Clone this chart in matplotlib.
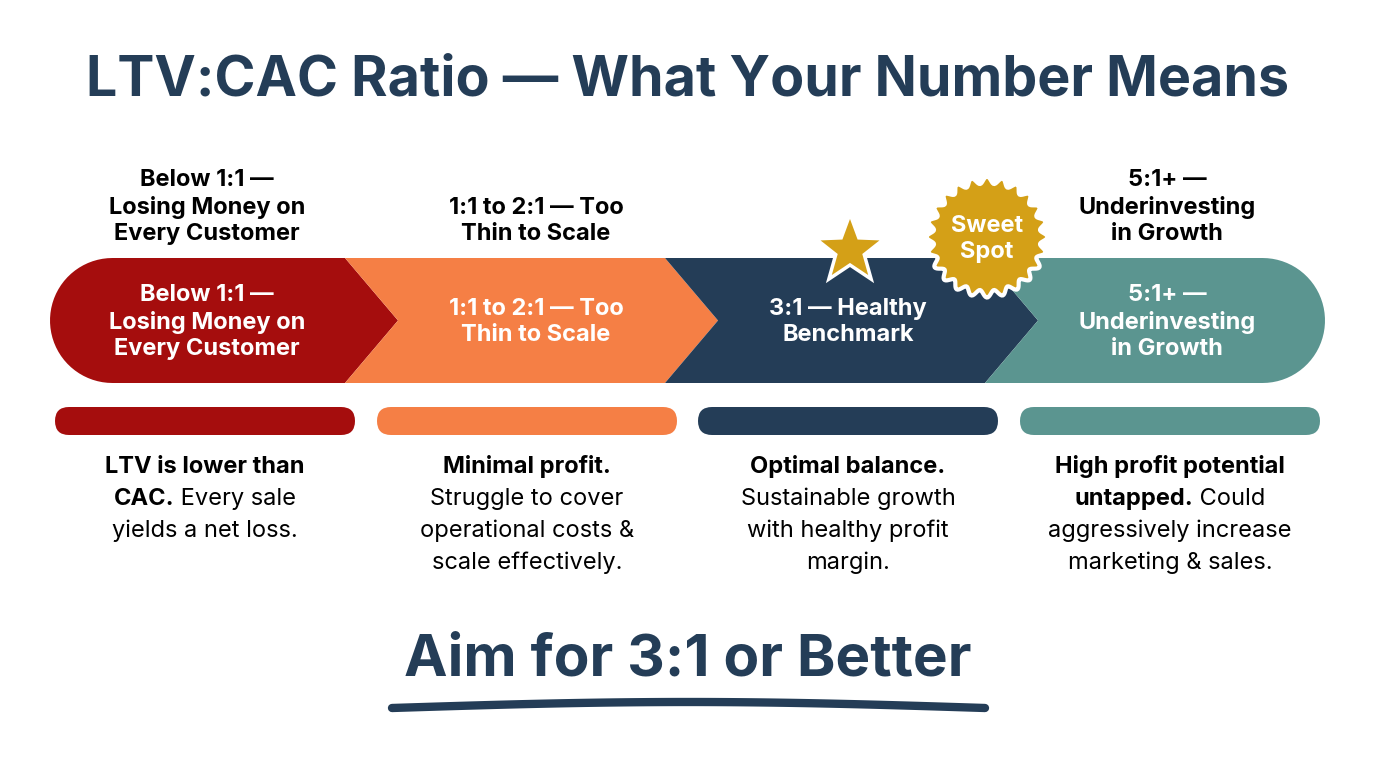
import numpy as np
import matplotlib
matplotlib.use("Agg")
import matplotlib.pyplot as plt
from matplotlib.patches import Polygon, FancyBboxPatch

plt.rcParams['font.family'] = ['Inter', 'DejaVu Sans']

title = "LTV:CAC Ratio — What Your Number Means"
band_labels = ["Below 1:1 —\nLosing Money on\nEvery Customer",
               "1:1 to 2:1 — Too\nThin to Scale",
               "3:1 — Healthy\nBenchmark",
               "5:1+ —\nUnderinvesting\nin Growth"]
top_labels = ["Below 1:1 —\nLosing Money on\nEvery Customer",
              "1:1 to 2:1 — Too\nThin to Scale",
              "",
              "5:1+ —\nUnderinvesting\nin Growth"]
colors = ["#a50d0d", "#f57f45", "#243d57", "#5b9590"]
# each description: list of lines; each line: (bold part, normal part)
descriptions = [
    [("LTV is lower than", ""), ("CAC.", " Every sale"), ("", "yields a net loss.")],
    [("Minimal profit.", ""), ("", "Struggle to cover"), ("", "operational costs &"), ("", "scale effectively.")],
    [("Optimal balance.", ""), ("", "Sustainable growth"), ("", "with healthy profit"), ("", "margin.")],
    [("High profit potential", ""), ("untapped.", " Could"), ("", "aggressively increase"), ("", "marketing & sales.")],
]
footer = "Aim for 3:1 or Better"
badge = "Sweet\nSpot"

NAVY = "#243d57"
GOLD = "#d4a017"

fig = plt.figure(figsize=(13.76, 7.68), dpi=100)
ax = fig.add_axes([0, 0, 1, 1])
ax.set_xlim(0, 1376); ax.set_ylim(768, 0); ax.axis('off')

ax.text(688, 80, title, ha='center', va='center', fontsize=40, fontweight='bold', color=NAVY)

# chevron band
y0, y1 = 258, 383
ym = (y0 + y1) / 2; r = (y1 - y0) / 2
starts = [50, 345, 665, 985]
ends = [345, 665, 985, 1325]
tip = 53
for i in range(4):
    s, e = starts[i], ends[i]
    pts = []
    if i == 0:
        cx = s + r
        th = np.linspace(np.pi / 2, 3 * np.pi / 2, 40)
        pts += [(cx + r * np.cos(t), ym - r * np.sin(t)) for t in th][::-1]
        pts = [(cx, y0)] + [(cx + r * np.cos(t), ym - r * np.sin(t)) for t in th] + [(cx, y1)]
        pts = pts[::-1]
        pts = [(cx, y1)] + [(cx - r * np.cos(t - np.pi / 2) * 0 + r * np.cos(t), ym + r * np.sin(t - np.pi) * -1) for t in []]
        th2 = np.linspace(np.pi / 2, 3 * np.pi / 2, 40)
        pts = [(cx + r * np.cos(t), ym - r * np.sin(t)) for t in th2]
    else:
        pts = [(s + tip, ym), (s, y1)] [::-1]
        pts = [(s, y0), (s + tip, ym), (s, y1)][::-1]
        pts = [(s, y1), (s + tip, ym), (s, y0)]
    if i == 3:
        cx = e - r
        th = np.linspace(np.pi / 2, -np.pi / 2, 40)
        right = [(cx + r * np.cos(t), ym - r * np.sin(t)) for t in th]
    else:
        right = [(e, y0), (e + tip, ym), (e, y1)]
    if i == 0:
        # pts go from top (pi/2) around left to bottom
        poly = pts + [(e, y1), (e + tip, ym), (e, y0)][::-1][::-1]
        poly = pts + [(e, y1), (e + tip, ym), (e, y0)]
        poly = [(cx + r * np.cos(t), ym - r * np.sin(t)) for t in np.linspace(np.pi/2, 3*np.pi/2, 40)] \
            + [(e, y1), (e + tip, ym), (e, y0)]
    else:
        poly = [(s, y0), (s + tip, ym), (s, y1)][::-1] + [(s, y0)]
        left = [(s, y0), (s + tip, ym), (s, y1)]
        if i == 3:
            rt = [(cx + r * np.cos(t), ym - r * np.sin(t)) for t in np.linspace(-np.pi/2, np.pi/2, 40)]
            poly = left + rt
        else:
            poly = left + [(e, y1), (e + tip, ym), (e, y0)]
    ax.add_patch(Polygon(poly, closed=True, facecolor=colors[i], edgecolor='none', zorder=2))

centers = [207, 536, 848, 1167]
for i in range(4):
    ax.text(centers[i], 322, band_labels[i], ha='center', va='center', fontsize=17,
            fontweight='bold', color='white', linespacing=1.25, zorder=5)
    if top_labels[i]:
        ax.text(centers[i], 245, top_labels[i], ha='center', va='bottom', fontsize=17,
                fontweight='bold', color='black', linespacing=1.25)

# star
sc = (850, 250); ro, ri = 36, 15
ang = np.pi / 2 + np.arange(10) * np.pi / 5
rad = np.where(np.arange(10) % 2 == 0, ro, ri)
star = [(sc[0] + rr * np.cos(a), sc[1] - rr * np.sin(a)) for a, rr in zip(ang, rad)]
ax.add_patch(Polygon(star, closed=True, facecolor=GOLD, edgecolor='white', lw=2.5, zorder=6))

# badge
bc = (987, 237)
t = np.linspace(0, 2 * np.pi, 400)
rb = 57 + 3.5 * np.cos(24 * t)
ax.add_patch(Polygon(list(zip(bc[0] + rb * np.cos(t), bc[1] + rb * np.sin(t))), closed=True,
                     facecolor=GOLD, edgecolor='white', lw=3, zorder=6))
ax.text(bc[0], bc[1] + 2, badge, ha='center', va='center', fontsize=17, fontweight='bold',
        color='white', linespacing=1.2, zorder=7)

# bars
bar_x = [55, 377, 698, 1020]
for i in range(4):
    ax.add_patch(FancyBboxPatch((bar_x[i] + 14, 407), 300 - 28, 28,
                                boxstyle="round,pad=0,rounding_size=14", mutation_aspect=1,
                                facecolor=colors[i], edgecolor='none'))
    ax.add_patch(FancyBboxPatch((bar_x[i], 407), 300, 28,
                                boxstyle="round,pad=0,rounding_size=14",
                                facecolor=colors[i], edgecolor='none'))

# descriptions
fig.canvas.draw()
rend = fig.canvas.get_renderer()
desc_c = [205, 527, 848, 1170]
for i, lines in enumerate(descriptions):
    for j, (b, n) in enumerate(lines):
        y = 467 + 32 * j
        tb = ax.text(0, y, b, fontsize=17, fontweight='bold', color='black', va='center')
        tn = ax.text(0, y, n, fontsize=17, color='black', va='center')
        wb = tb.get_window_extent(rend).width if b else 0
        wn = tn.get_window_extent(rend).width if n else 0
        x0 = desc_c[i] - (wb + wn) / 2
        tb.set_x(x0); tn.set_x(x0 + wb)

ax.text(688, 660, footer, ha='center', va='center', fontsize=42, fontweight='bold', color=NAVY)
xs = np.linspace(392, 985, 100)
ys = 708 - 6 * np.sin((xs - 392) / (985 - 392) * np.pi)
ax.plot(xs, ys, color=NAVY, lw=6, solid_capstyle='round')

fig.savefig("out.png", dpi=100, facecolor='white')
